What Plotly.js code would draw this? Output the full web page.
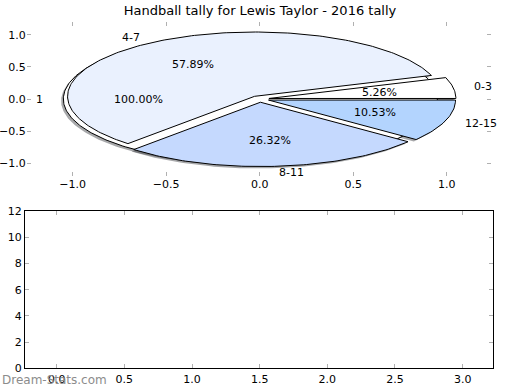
<!DOCTYPE html>
<html>
<head>
<meta charset="utf-8">
<script src="https://cdn.plot.ly/plotly-3.0.1.min.js"></script>
<style>html,body{margin:0;padding:0;background:#fff;}#chart{width:520px;height:390px;}</style>
</head>
<body>
<div id="chart"></div>
<script>
// ---- data ----
const titleText = 'Handball tally for Lewis Taylor - 2016 tally';
const sliceLabels = ['0-3', '4-7', '8-11', '12-15'];
const sliceCounts = [1, 11, 5, 2];
const sliceColors = ['#ffffff', '#eaf1fe', '#c5d9fe', '#b3d4fe'];
const totalLabels = ['1'];
const totalCounts = [1];
const totalColors = ['#ffffff'];
const topXTicks = [-1.0, -0.5, 0.0, 0.5, 1.0];
const topYTicks = [-1.0, -0.5, 0.0, 0.5, 1.0];
const bottomXTicks = [0.0, 0.5, 1.0, 1.5, 2.0, 2.5, 3.0];
const bottomYTicks = [0, 2, 4, 6, 8, 10, 12];
const watermark = 'Dream-Stats.com';

// ---- pie geometry (matplotlib-style, in data coords of stretched axes) ----
const explode = 0.05, labelDist = 1.1, pctDist = 0.6;
const shadowDx = -0.012, shadowDy = -0.03;
const fmt = v => (v < 0 ? '\u2212' : '') + Math.abs(v).toFixed(1);

function wedges(counts) {
  const total = counts.reduce((a, b) => a + b, 0);
  let start = 0;
  return counts.map(c => {
    const frac = c / total;
    const t1 = start, t2 = start + frac * 360;
    start = t2;
    const mid = (t1 + t2) / 2 * Math.PI / 180;
    return {frac, t1, t2, mid, cx: explode * Math.cos(mid), cy: explode * Math.sin(mid)};
  });
}
function wedgePath(w, dx, dy) {
  const xs = [], ys = [];
  const full = (w.t2 - w.t1) >= 359.999;
  if (!full) { xs.push(w.cx + dx); ys.push(w.cy + dy); }
  const n = Math.max(8, Math.ceil((w.t2 - w.t1) / 1));
  for (let i = 0; i <= n; i++) {
    const a = (w.t1 + (w.t2 - w.t1) * i / n) * Math.PI / 180;
    xs.push(w.cx + dx + Math.cos(a));
    ys.push(w.cy + dy + Math.sin(a));
  }
  if (!full) { xs.push(w.cx + dx); ys.push(w.cy + dy); }
  return {xs, ys};
}

const pies = [
  {labels: totalLabels, counts: totalCounts, colors: totalColors, w: wedges(totalCounts)},
  {labels: sliceLabels, counts: sliceCounts, colors: sliceColors, w: wedges(sliceCounts)}
];

const traces = [];
const annotations = [];
const labelFont = {family: 'DejaVu Sans', size: 11, color: '#000'};

// shadows first
pies.forEach(p => p.w.forEach(w => {
  const s = wedgePath(w, shadowDx, shadowDy);
  traces.push({type: 'scatter', mode: 'lines', x: s.xs, y: s.ys, fill: 'toself',
    fillcolor: 'rgba(60,62,66,0.45)', line: {width: 0}, hoverinfo: 'skip', showlegend: false,
    xaxis: 'x', yaxis: 'y'});
}));
// wedges
pies.forEach(p => p.w.forEach((w, i) => {
  const s = wedgePath(w, 0, 0);
  traces.push({type: 'scatter', mode: 'lines', x: s.xs, y: s.ys, fill: 'toself',
    fillcolor: p.colors[i], line: {width: 1, color: '#000'}, hoverinfo: 'skip', showlegend: false,
    xaxis: 'x', yaxis: 'y'});
  const lx = w.cx + labelDist * Math.cos(w.mid), ly = w.cy + labelDist * Math.sin(w.mid);
  annotations.push({xref: 'x', yref: 'y', x: lx, y: ly, text: p.labels[i], showarrow: false,
    xanchor: lx > 0 ? 'left' : 'right', yanchor: 'middle', font: labelFont});
  const px = w.cx + pctDist * Math.cos(w.mid), py = w.cy + pctDist * Math.sin(w.mid);
  annotations.push({xref: 'x', yref: 'y', x: px, y: py, text: (w.frac * 100).toFixed(2) + '%',
    showarrow: false, xanchor: 'center', yanchor: 'middle', font: labelFont});
}));

// empty second panel
traces.push({type: 'scatter', mode: 'markers', x: [], y: [], xaxis: 'x2', yaxis: 'y2', showlegend: false});

annotations.push({xref: 'paper', yref: 'paper', x: 0, y: 0.025, xanchor: 'left', yanchor: 'middle',
  text: watermark, showarrow: false, font: {family: 'DejaVu Sans', size: 12, color: '#8c8c8c'}});

const tickFont = {family: 'DejaVu Sans', size: 11, color: '#000'};
const W = 520, H = 390;
const layout = {
  width: W, height: H,
  margin: {l: 0, r: 0, t: 0, b: 0},
  paper_bgcolor: '#fff', plot_bgcolor: 'rgba(0,0,0,0)',
  showlegend: false,
  title: {text: titleText, x: 0.5, xanchor: 'center', y: 1 - 10 / H, yanchor: 'middle',
    font: {family: 'DejaVu Sans', size: 13, color: '#000'}},
  xaxis: {domain: [26.7 / W, 491 / W], range: [-1.246, 1.237], anchor: 'y',
    tickvals: topXTicks, ticktext: topXTicks.map(fmt), ticks: 'inside', ticklen: 4, tickcolor: '#b0b0b0',
    mirror: 'ticks', showline: false, showgrid: false, zeroline: false, tickfont: tickFont, fixedrange: true},
  yaxis: {domain: [1 - 176 / H, 1 - 21.7 / H], range: [-1.197, 1.202], anchor: 'x',
    tickvals: topYTicks, ticktext: topYTicks.map(fmt), ticks: 'inside', ticklen: 4, tickcolor: '#b0b0b0',
    mirror: 'ticks', showline: false, showgrid: false, zeroline: false, tickfont: tickFont, fixedrange: true},
  xaxis2: {domain: [25 / W, 492.7 / W], range: [-0.234, 3.222], anchor: 'y2',
    tickvals: bottomXTicks, ticktext: bottomXTicks.map(fmt), ticks: 'inside', ticklen: 4, tickcolor: '#b0b0b0',
    mirror: 'ticks', showline: true, linecolor: '#000', linewidth: 1, showgrid: false, zeroline: false,
    tickfont: tickFont, fixedrange: true},
  yaxis2: {domain: [1 - 368.3 / H, 1 - 211 / H], range: [0, 12], anchor: 'x2',
    tickvals: bottomYTicks, ticktext: bottomYTicks.map(String), ticks: 'inside', ticklen: 4, tickcolor: '#b0b0b0',
    mirror: 'ticks', showline: true, linecolor: '#000', linewidth: 1, showgrid: false, zeroline: false,
    tickfont: tickFont, fixedrange: true},
  annotations: annotations
};
Plotly.newPlot('chart', traces, layout, {displayModeBar: false, staticPlot: true});
</script>
</body>
</html>
